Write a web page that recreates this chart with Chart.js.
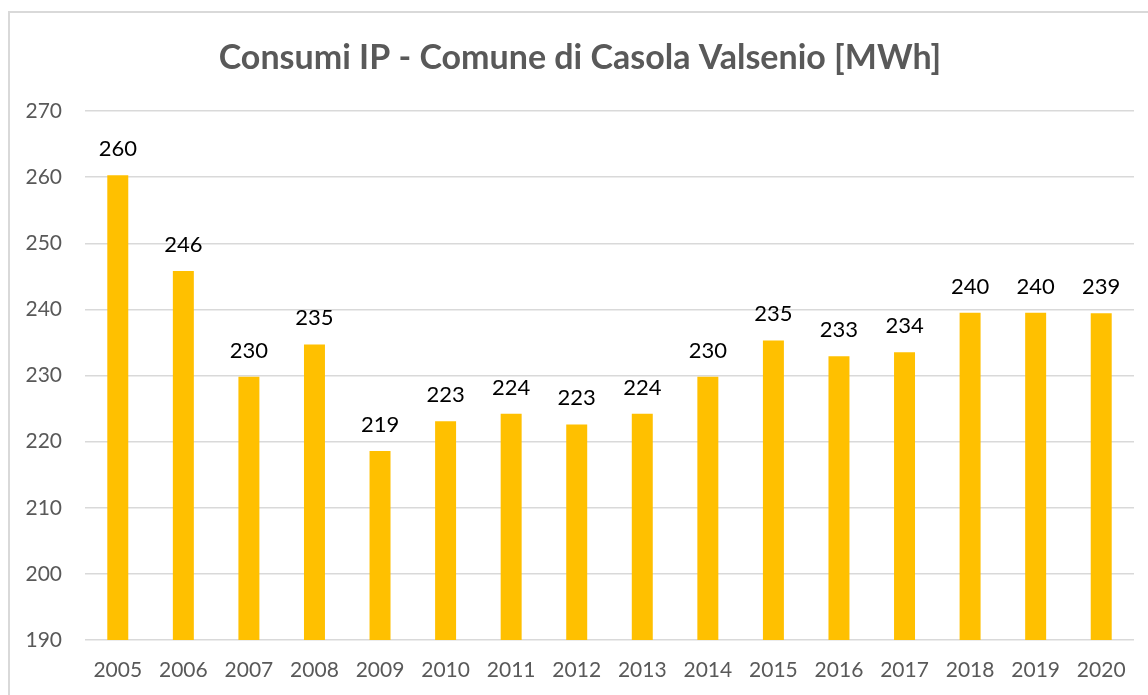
<!DOCTYPE html>
<html lang="it">
<head>
    <meta charset="UTF-8">
    <title>Consumi IP - Comune di Casola Valsenio</title>
    <script src="https://cdn.jsdelivr.net/npm/chart.js"></script>
    <style>
        html, body {
            margin: 0;
            padding: 0;
            background: #ffffff;
            overflow: hidden;
        }
        .wrap {
            position: relative;
            width: 1148px;
            height: 695px;
        }
        /* Excel-style chart frame, only top and left edges visible */
        .frame {
            position: absolute;
            left: 8px;
            top: 11px;
            width: 1300px;
            height: 800px;
            border: 2px solid #d9d9d9;
            pointer-events: none;
        }
    </style>
</head>
<body>
    <div class="wrap">
        <canvas id="chart" width="1148" height="695"></canvas>
        <div class="frame"></div>
    </div>

    <script>
        // data
        const years = ['2005', '2006', '2007', '2008', '2009', '2010', '2011', '2012',
                       '2013', '2014', '2015', '2016', '2017', '2018', '2019', '2020'];
        const consumi = [260.3, 245.8, 229.8, 234.7, 218.6, 223.1, 224.2, 222.6,
                         224.2, 229.8, 235.3, 232.9, 233.5, 239.5, 239.5, 239.4];
        const yTicks = [190, 200, 210, 220, 230, 240, 250, 260, 270];

        const FONT = 'Lato, "Noto Sans", sans-serif';

        // value labels above the bars
        const barLabels = {
            id: 'barLabels',
            afterDatasetsDraw(chart) {
                const ctx = chart.ctx;
                const meta = chart.getDatasetMeta(0);
                ctx.save();
                ctx.font = '22px ' + FONT;
                ctx.fillStyle = '#000000';
                ctx.textAlign = 'center';
                ctx.textBaseline = 'alphabetic';
                meta.data.forEach((bar, i) => {
                    ctx.fillText(Math.round(consumi[i]).toString(), bar.x, bar.y - 19);
                });
                ctx.restore();
            }
        };

        new Chart(document.getElementById('chart'), {
            type: 'bar',
            data: {
                labels: years,
                datasets: [{
                    label: 'Consumi IP',
                    data: consumi,
                    backgroundColor: '#FFC000',
                    categoryPercentage: 1,
                    barPercentage: 0.32
                }]
            },
            options: {
                responsive: false,
                animation: false,
                layout: {
                    padding: { left: 26, right: 14, top: 0, bottom: 0 }
                },
                scales: {
                    y: {
                        min: 190,
                        max: 270,
                        afterFit: s => { s.width = 59; },
                        afterBuildTicks: s => { s.ticks = yTicks.map(v => ({ value: v })); },
                        border: { display: false },
                        grid: { color: '#d9d9d9', lineWidth: 1.5, drawTicks: false },
                        ticks: {
                            color: '#595959',
                            font: { family: FONT, size: 21 },
                            padding: 23
                        }
                    },
                    x: {
                        afterFit: s => { s.height = 55; },
                        border: { display: false },
                        grid: { display: false, drawTicks: false },
                        ticks: {
                            color: '#595959',
                            font: { family: FONT, size: 21 },
                            padding: 18
                        }
                    }
                },
                plugins: {
                    legend: { display: false },
                    tooltip: { enabled: false },
                    title: {
                        display: true,
                        text: 'Consumi IP - Comune di Casola Valsenio [MWh]',
                        color: '#595959',
                        font: { family: FONT, size: 34, weight: 'bold', lineHeight: 1.2 },
                        padding: { top: 37.6, bottom: 32.6 }
                    }
                }
            },
            plugins: [barLabels]
        });
    </script>
</body>
</html>
